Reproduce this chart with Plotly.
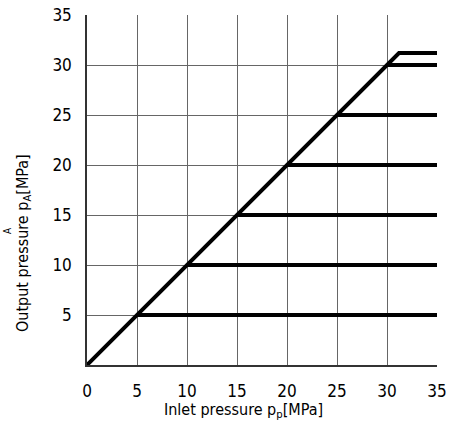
import plotly.graph_objects as go

# data
levels = [5, 10, 15, 20, 25, 30]
limit = 31.2
x_max = 35
ticks = [0, 5, 10, 15, 20, 25, 30, 35]

FONT = "DejaVu Sans Condensed"

fig = go.Figure()
fig.add_trace(go.Scatter(x=[0, limit, x_max], y=[0, limit, limit], mode="lines",
                         line=dict(color="black", width=4), showlegend=False, hoverinfo="skip"))
for lv in levels:
    fig.add_trace(go.Scatter(x=[lv, x_max], y=[lv, lv], mode="lines",
                             line=dict(color="black", width=4), showlegend=False, hoverinfo="skip"))

fig.update_layout(
    width=459, height=435,
    margin=dict(l=87, r=22, t=15, b=70, autoexpand=False),
    paper_bgcolor="white", plot_bgcolor="white",
    font=dict(family=FONT, size=17, color="black"),
    xaxis=dict(range=[0, x_max], tickvals=ticks, ticktext=[str(t) for t in ticks],
               showgrid=True, gridcolor="#666", gridwidth=1, zeroline=False, automargin=False,
               showline=True, linecolor="#333", linewidth=1.5, ticks="", ticklabelstandoff=10),
    yaxis=dict(range=[0, x_max], tickvals=ticks[1:], ticktext=[str(t) for t in ticks[1:]],
               showgrid=True, gridcolor="#666", gridwidth=1, zeroline=False, automargin=False,
               showline=True, linecolor="#333", linewidth=1.5, ticks="", ticklabelstandoff=10),
)

def px_x(p):
    return (p - 87) / 350

def px_y(p):
    return (365 - p) / 350

fig.add_annotation(text="Inlet pressure p<sub>p</sub>[MPa]", x=px_x(243), y=px_y(410),
                   xanchor="center", yanchor="middle",
                   xref="paper", yref="paper", showarrow=False, font=dict(size=16))
fig.add_annotation(text="Output pressure p<sub>A</sub>[MPa]", x=px_x(23), y=px_y(243),
                   xanchor="center", yanchor="middle",
                   xref="paper", yref="paper", showarrow=False, textangle=-90, font=dict(size=16))
fig.add_annotation(text="A", x=px_x(7), y=px_y(231), xref="paper", yref="paper",
                   xanchor="center", yanchor="middle",
                   showarrow=False, textangle=-90, font=dict(size=10))
fig.write_html("out.html")
